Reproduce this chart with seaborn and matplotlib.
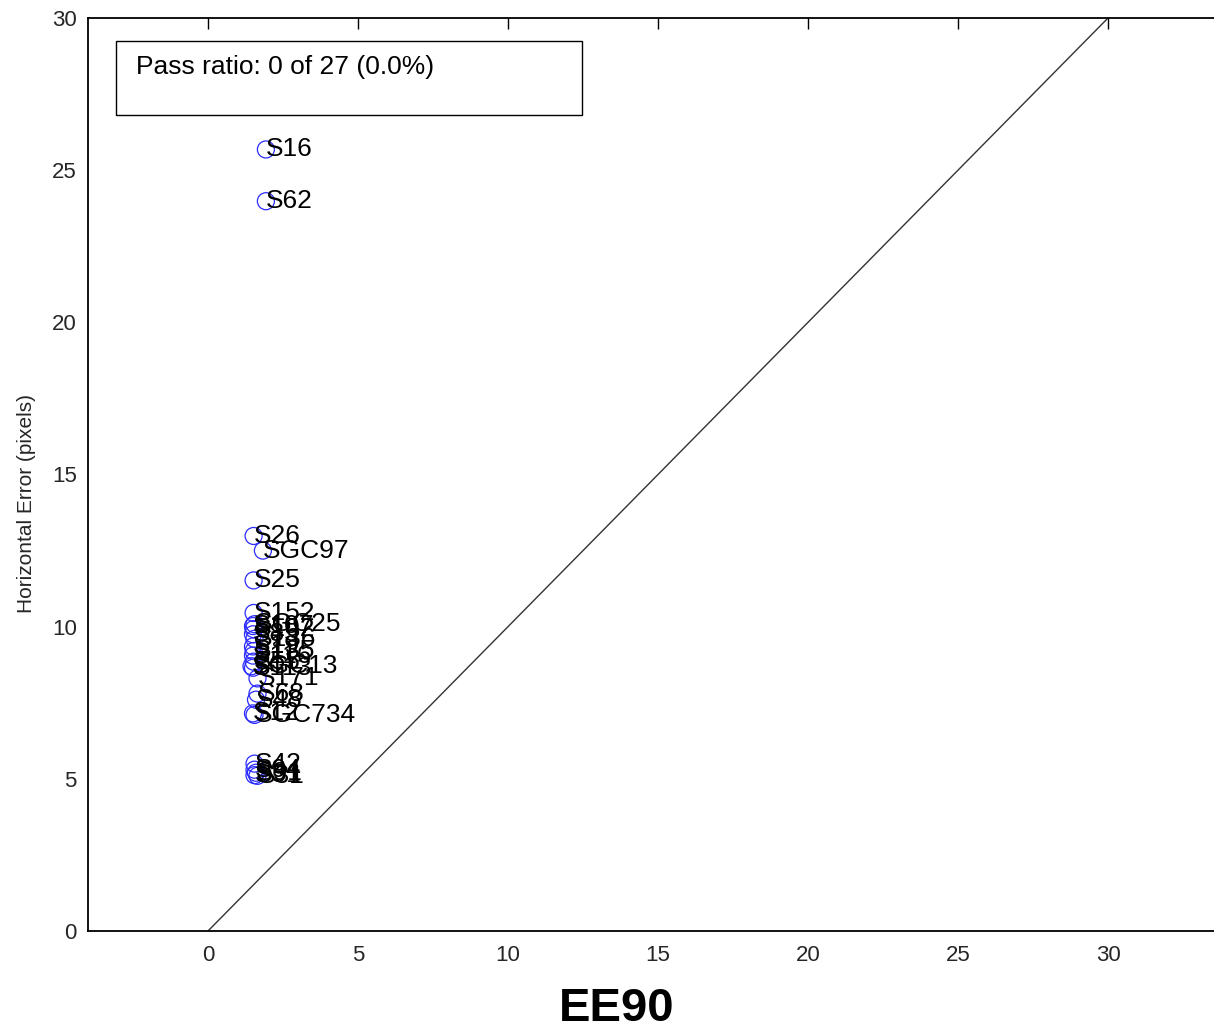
import numpy as np
import pandas as pd
import matplotlib
matplotlib.use("Agg")
import matplotlib.pyplot as plt
from matplotlib.patches import Rectangle
import seaborn as sns

# Per-sample errors: x = vertical error, y = horizontal error (pixels)
labels = ["S16", "S62", "S26", "SGC97", "S25", "S152", "SGC25", "S107", "S102",
          "S85", "S136", "S19", "S135", "S116", "S55", "SGC13", "S113", "S171",
          "S68", "S48", "S12", "SGC734", "S42", "S94", "S91", "S51", "S31"]
x_err = [1.93, 1.93, 1.52, 1.83, 1.52, 1.52, 1.55, 1.50, 1.52,
         1.50, 1.55, 1.50, 1.52, 1.50, 1.52, 1.45, 1.50, 1.65,
         1.65, 1.60, 1.50, 1.55, 1.55, 1.55, 1.60, 1.55, 1.65]
y_err = [25.68, 23.98, 12.98, 12.50, 11.52, 10.45, 10.08, 10.02, 9.92,
         9.75, 9.60, 9.35, 9.20, 9.05, 8.85, 8.70, 8.65, 8.30,
         7.80, 7.60, 7.15, 7.10, 5.50, 5.30, 5.20, 5.12, 5.10]
diag = [0, 30]
x_ticks = [0, 5, 10, 15, 20, 25, 30]
y_ticks = [0, 5, 10, 15, 20, 25, 30]
title = "EE90"

df = pd.DataFrame({"x": x_err, "y": y_err, "label": labels})
n_pass = int((df["y"] <= df["x"]).sum())
n_total = len(df)
pass_text = f"Pass ratio: {n_pass} of {n_total} ({100.0 * n_pass / n_total:.1f}%)"

sns.set_theme(style="white")
plt.rcParams["font.family"] = ["Liberation Sans", "DejaVu Sans"]

W, H = 1214, 1034
fig = plt.figure(figsize=(W / 100, H / 100), dpi=100)
# axes extends past the right edge of the figure
ax = fig.add_axes([88 / W, 103 / H, 1140 / W, 913 / H])

sns.lineplot(x=diag, y=diag, ax=ax, color="#333333", linewidth=1.0)
sns.scatterplot(data=df, x="x", y="y", ax=ax, marker="o", s=150,
                facecolors="none", edgecolor="#2b2bff", linewidth=0.9,
                zorder=3)
for xi, yi, lab in zip(df["x"], df["y"], df["label"]):
    ax.text(xi, yi, lab, ha="left", va="center", fontsize=19, color="black",
            zorder=4)

ax.set_xlim(-4, 34)
ax.set_ylim(0, 30)
ax.set_xticks(x_ticks)
ax.set_yticks(y_ticks)
ax.tick_params(direction="in", length=8, width=1.0, color="black",
               labelsize=16, top=True, right=True, pad=8)
ax.tick_params(axis="x", pad=10)
ax.set_xlabel("")
ax.set_ylabel("Horizontal Error (pixels)", fontsize=15)
ax.yaxis.set_label_coords(-0.046, 0.468)
for sp in ax.spines.values():
    sp.set_color("black")
    sp.set_linewidth(1.3)

ax.add_patch(Rectangle((0.0246, 0.894), 0.409, 0.081, transform=ax.transAxes,
                       fill=False, edgecolor="black", linewidth=1.0, zorder=5))
ax.text(0.042, 0.946, pass_text, transform=ax.transAxes, ha="left",
        va="center", fontsize=19, color="black", zorder=6)

fig.text(617 / W, 1 - 1009 / H, title, ha="center", va="center",
         fontsize=34, fontweight="bold", color="black")

fig.savefig("out.png", dpi=100)
